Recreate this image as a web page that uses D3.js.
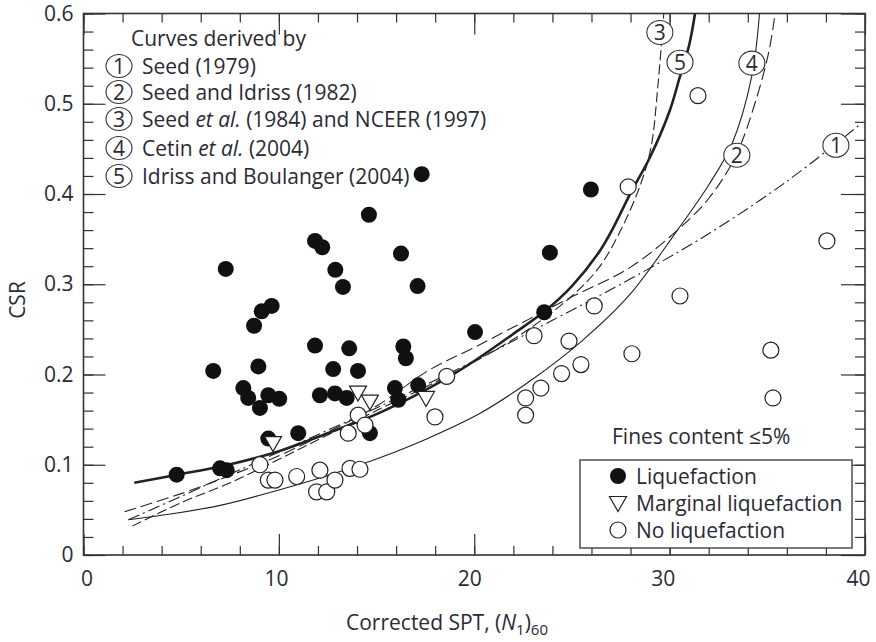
<!DOCTYPE html>
<html><head><meta charset="utf-8">
<script src="https://cdn.jsdelivr.net/npm/d3@7"></script>
<style>
body{margin:0;background:#fff;}
svg text{font-family:"Open Sans","Noto Sans",sans-serif;fill:#2a2a35;}
</style></head><body>
<svg id="chart" width="876" height="642"></svg>
<script>
// ---- data ----
const xTicks = [0,10,20,30,40];
const yTicks = [0,0.1,0.2,0.3,0.4,0.5,0.6];
const yTickLabels = ["0","0.1","0.2","0.3","0.4","0.5","0.6"];

const liquefaction = [
[4.77,0.089],[6.64,0.204],[6.99,0.096],[7.33,0.094],[7.28,0.317],[8.18,0.185],[8.43,0.174],
[8.73,0.254],[8.95,0.209],[9.03,0.163],[9.12,0.270],[9.46,0.177],[9.46,0.129],[9.63,0.276],
[10.02,0.173],[10.99,0.135],[11.85,0.348],[11.85,0.232],[12.1,0.177],[12.22,0.341],[12.78,0.206],
[12.87,0.179],[12.89,0.316],[13.28,0.297],[13.47,0.174],[13.6,0.229],[14.05,0.204],[14.61,0.377],
[14.66,0.135],[15.94,0.185],[16.11,0.172],[16.25,0.334],[16.37,0.231],[16.5,0.218],[17.1,0.298],
[17.13,0.188],[17.31,0.422],[20.04,0.247],[23.58,0.269],[23.87,0.335],[25.97,0.405]
];
const marginal = [[9.7,0.124],[14.05,0.180],[14.66,0.170],[17.53,0.174]];
const noLiquefaction = [
[9.03,0.100],[9.46,0.083],[9.8,0.083],[10.91,0.087],[11.93,0.070],[12.1,0.094],[12.45,0.070],
[12.87,0.083],[13.55,0.135],[13.64,0.096],[14.06,0.155],[14.15,0.095],[14.41,0.144],[17.99,0.153],
[18.59,0.198],[22.63,0.155],[22.63,0.174],[23.06,0.243],[23.41,0.185],[24.47,0.201],[24.85,0.237],
[25.46,0.211],[26.14,0.276],[27.88,0.408],[28.07,0.223],[30.53,0.287],[31.45,0.509],[35.18,0.227],
[35.29,0.174],[38.05,0.348]
];

// curves
const curve1 = [[2.3,0.039],[5,0.065],[10,0.114],[15,0.163],[20,0.215],[24,0.260],[28,0.306],[32,0.356],[36,0.414],[39.8,0.478]];
const curve2 = [[2.1,0.048],[5,0.068],[7.5,0.088],[10,0.110],[12.5,0.136],[15,0.165],[17.7,0.205],[20,0.230],[22.5,0.258],[25,0.286],[28,0.319],[30.4,0.36],[32,0.395],[33.4,0.443],[34.5,0.51],[35.1,0.56],[35.4,0.6]];
const curve3 = [[2.5,0.032],[5,0.058],[7.5,0.080],[10,0.106],[12.5,0.133],[15,0.160],[17.5,0.186],[20,0.214],[22.5,0.246],[25,0.287],[26.4,0.319],[27.5,0.36],[28.5,0.41],[29.05,0.452],[29.4,0.52],[29.7,0.6]];
const curve4 = [[2.3,0.039],[4,0.044],[7,0.055],[10,0.072],[12.5,0.088],[15.2,0.108],[17.5,0.128],[20.3,0.157],[23,0.195],[25.5,0.237],[27.9,0.287],[30.4,0.36],[32,0.41],[33.2,0.456],[34.2,0.53],[34.6,0.6]];
const curve5 = [[2.6,0.080],[4.8,0.089],[7.2,0.099],[10,0.115],[12.5,0.135],[15.2,0.158],[18.6,0.196],[20,0.215],[22,0.245],[23.6,0.270],[25,0.298],[26.4,0.336],[27.1,0.362],[28,0.401],[29,0.441],[30,0.492],[30.5,0.528],[31,0.565],[31.3,0.6]];

const curveLabels = [["3",29.5,0.579],["5",30.53,0.546],["4",34.21,0.545],["2",33.44,0.443],["1",38.51,0.454]];
const legendLines = ["Seed (1979)","Seed and Idriss (1982)","Seed <i>et al.</i> (1984) and NCEER (1997)","Cetin <i>et al.</i> (2004)","Idriss and Boulanger (2004)"];

// ---- drawing ----
const svg = d3.select("#chart");
const x = d3.scaleLinear().domain([0,40]).range([83.5,865]);
const y = d3.scaleLinear().domain([0,0.6]).range([555,13.5]);
const ink = "#333";
const FS = 21;

const gAx = svg.append("g");
function styleAxis(g){ g.select(".domain").remove(); g.selectAll("line").attr("stroke",ink).attr("stroke-width",1.2); }
const xMinor = d3.range(0,41,2), yMinor = d3.range(0,0.601,0.02);
// bottom
gAx.append("g").attr("transform","translate(0,555)").call(d3.axisBottom(x).tickValues(xMinor).tickSize(-9).tickFormat("")).call(styleAxis);
gAx.append("g").attr("transform","translate(0,555)").call(d3.axisBottom(x).tickValues(xTicks).tickSize(-21).tickPadding(31).tickFormat(d3.format("d"))).call(styleAxis)
  .selectAll("text").attr("font-size",FS).attr("fill","#2a2a35").attr("dy",0)
  .attr("dx",d=>d===0?3:-Math.min(7,d/5+1));
// top
gAx.append("g").attr("transform","translate(0,13.5)").call(d3.axisTop(x).tickValues(xMinor).tickSize(-9).tickFormat("")).call(styleAxis);
gAx.append("g").attr("transform","translate(0,13.5)").call(d3.axisTop(x).tickValues(xTicks).tickSize(-21).tickFormat("")).call(styleAxis);
// left
gAx.append("g").attr("transform","translate(83.5,0)").call(d3.axisLeft(y).tickValues(yMinor).tickSize(-10).tickFormat("")).call(styleAxis);
gAx.append("g").attr("transform","translate(83.5,0)").call(d3.axisLeft(y).tickValues(yTicks).tickSize(-22).tickPadding(10).tickFormat((d,i)=>yTickLabels[i])).call(styleAxis)
  .selectAll("text").attr("font-size",FS).attr("fill","#2a2a35");
// right
gAx.append("g").attr("transform","translate(865,0)").call(d3.axisRight(y).tickValues(yMinor).tickSize(-10).tickFormat("")).call(styleAxis);
gAx.append("g").attr("transform","translate(865,0)").call(d3.axisRight(y).tickValues(yTicks).tickSize(-24).tickFormat("")).call(styleAxis);
svg.append("rect").attr("x",83.5).attr("y",13.5).attr("width",865-83.5).attr("height",555-13.5)
  .attr("fill","none").attr("stroke",ink).attr("stroke-width",1.6);

// curves
const line = d3.line().x(d=>x(d[0])).y(d=>y(d[1])).curve(d3.curveCatmullRom.alpha(0.5));
const gC = svg.append("g").attr("fill","none").attr("stroke","#222");
gC.append("path").datum(curve1).attr("d",line).attr("stroke-width",1.1).attr("stroke-dasharray","12,4,2,4");
gC.append("path").datum(curve2).attr("d",line).attr("stroke-width",1.1).attr("stroke-dasharray","12,5");
gC.append("path").datum(curve3).attr("d",line).attr("stroke-width",1.1).attr("stroke-dasharray","10,4");
gC.append("path").datum(curve4).attr("d",line).attr("stroke-width",1.1);
gC.append("path").datum(curve5).attr("d",line).attr("stroke-width",2.6);

// points
const gP = svg.append("g");
const tri = "M-8.5,-6.5L8.5,-6.5L0,8.5Z";
gP.selectAll("circle.lq").data(liquefaction).join("circle").attr("class","lq")
  .attr("cx",d=>x(d[0])).attr("cy",d=>y(d[1])).attr("r",8).attr("fill","#111");
gP.selectAll("circle.no").data(noLiquefaction).join("circle").attr("class","no")
  .attr("cx",d=>x(d[0])).attr("cy",d=>y(d[1])).attr("r",8).attr("fill","#fff").attr("stroke","#222").attr("stroke-width",1.2);
gP.selectAll("path.mg").data(marginal).join("path").attr("class","mg")
  .attr("transform",d=>`translate(${x(d[0])},${y(d[1])})`).attr("d",tri).attr("fill","#fff").attr("stroke","#222").attr("stroke-width",1.2);

// curve labels
const gL = svg.append("g");
curveLabels.forEach(([t,cx,cy])=>{
  gL.append("ellipse").attr("cx",x(cx)).attr("cy",y(cy)).attr("rx",13).attr("ry",12).attr("fill","#fff").attr("stroke","#333").attr("stroke-width",1.1);
  gL.append("text").attr("x",x(cx)).attr("y",y(cy)+7.5).attr("text-anchor","middle").attr("font-size",FS).text(t);
});

// top-left legend
svg.append("text").attr("x",131).attr("y",46).attr("font-size",FS).text("Curves derived by");
const rowsY=[66,92,119,148,176];
legendLines.forEach((s,i)=>{
  svg.append("ellipse").attr("cx",119).attr("cy",rowsY[i]).attr("rx",13).attr("ry",11.5).attr("fill","#fff").attr("stroke","#333").attr("stroke-width",1.1);
  svg.append("text").attr("x",119).attr("y",rowsY[i]+7.5).attr("text-anchor","middle").attr("font-size",FS).text(String(i+1));
  const t = svg.append("text").attr("x",142).attr("y",rowsY[i]+7.5).attr("font-size",FS);
  s.split(/(<i>.*?<\/i>)/).forEach(part=>{
    if(!part) return;
    if(part.startsWith("<i>")) t.append("tspan").attr("font-style","italic").text(part.replace(/<\/?i>/g,""));
    else t.append("tspan").text(part);
  });
});

// bottom-right legend
svg.append("text").attr("x",612).attr("y",444).attr("font-size",FS).text("Fines content \u22645%");
svg.append("rect").attr("x",580).attr("y",460).attr("width",272).attr("height",88).attr("fill","#fff").attr("stroke","#333").attr("stroke-width",1.3);
const legY=[476,503,530];
svg.append("circle").attr("cx",618).attr("cy",legY[0]).attr("r",8).attr("fill","#111");
svg.append("path").attr("transform",`translate(618,${legY[1]})`).attr("d",tri).attr("fill","#fff").attr("stroke","#222").attr("stroke-width",1.2);
svg.append("circle").attr("cx",618).attr("cy",legY[2]).attr("r",8).attr("fill","#fff").attr("stroke","#222").attr("stroke-width",1.2);
["Liquefaction","Marginal liquefaction","No liquefaction"].forEach((s,i)=>{
  svg.append("text").attr("x",636).attr("y",legY[i]+7.5).attr("font-size",FS).text(s);
});

// axis titles
svg.append("text").attr("transform","translate(25,300) rotate(-90)").attr("text-anchor","middle").attr("font-size",FS).text("CSR");
const xt = svg.append("text").attr("x",447).attr("y",630).attr("text-anchor","middle").attr("font-size",FS);
xt.append("tspan").text("Corrected SPT, (");
xt.append("tspan").attr("font-style","italic").text("N");
xt.append("tspan").attr("font-size",15).attr("dy",5).text("1");
xt.append("tspan").attr("dy",-5).text(")");
xt.append("tspan").attr("font-size",15).attr("dy",5).text("60");
</script></body></html>
